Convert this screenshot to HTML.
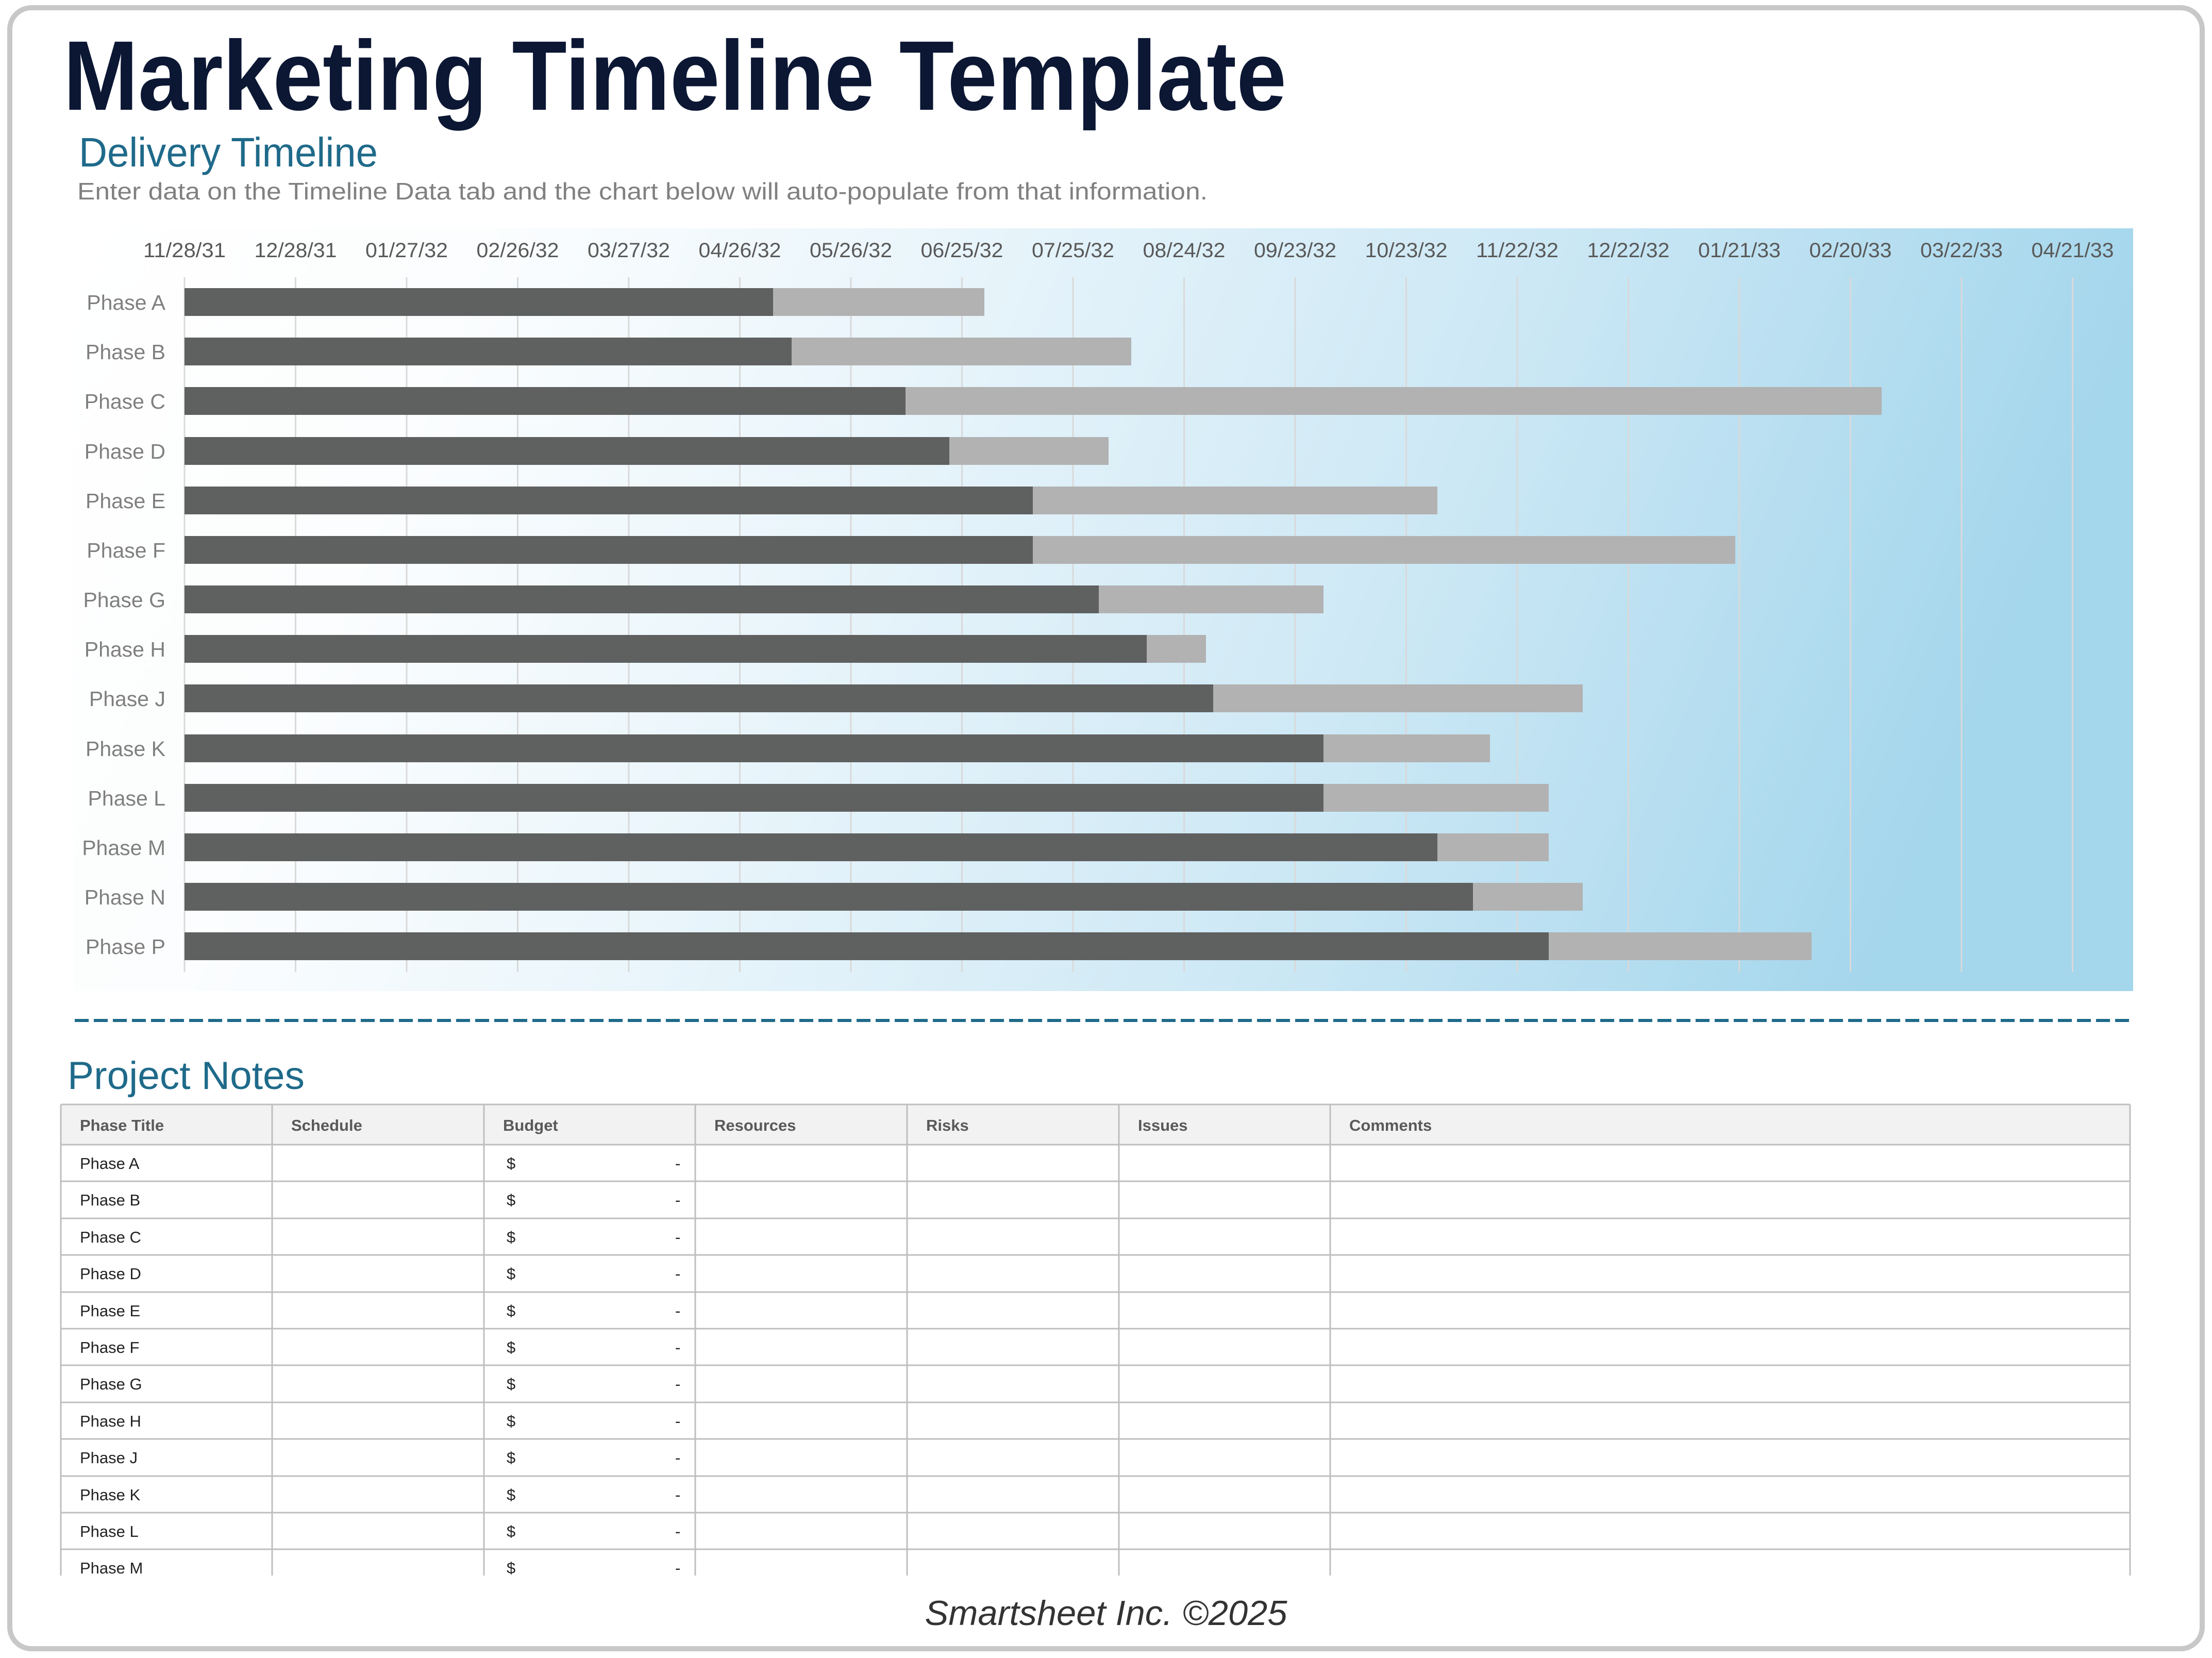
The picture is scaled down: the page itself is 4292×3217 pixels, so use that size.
<!DOCTYPE html>
<html><head><meta charset="utf-8"><style>html,body{margin:0;padding:0;background:#fff}svg{display:block}</style></head>
<body>
<svg width="4292" height="3217" viewBox="0 0 4292 3217" xmlns="http://www.w3.org/2000/svg" font-family="'Liberation Sans', sans-serif">
<defs>
<linearGradient id="bg" x1="0" y1="0" x2="1" y2="0.15">
<stop offset="0" stop-color="#ffffff"/>
<stop offset="0.2" stop-color="#fbfdfe"/>
<stop offset="0.42" stop-color="#e9f5fb"/>
<stop offset="0.7" stop-color="#cde8f5"/>
<stop offset="1" stop-color="#a4d6ec"/>
</linearGradient>
</defs>
<rect x="0" y="0" width="4292" height="3217" fill="#fff"/>
<rect x="19" y="15" width="4254" height="3184" rx="42" fill="#fff" stroke="#c8c8c8" stroke-width="10"/>

<text x="123" y="213" font-size="192" font-weight="bold" fill="#0b1733" textLength="2373" lengthAdjust="spacingAndGlyphs">Marketing Timeline Template</text>
<text x="153" y="323" font-size="80" fill="#1f6a8a" textLength="580" lengthAdjust="spacingAndGlyphs">Delivery Timeline</text>
<text x="150" y="387" font-size="46" fill="#808080" textLength="2193" lengthAdjust="spacingAndGlyphs">Enter data on the Timeline Data tab and the chart below will auto-populate from that information.</text>

<rect x="142" y="443" width="3997" height="1480" fill="url(#bg)"/>

<g stroke="#d9d9d9" stroke-width="3">
<line x1="358" y1="538" x2="358" y2="1886"/><line x1="573.5" y1="538" x2="573.5" y2="1886"/><line x1="789" y1="538" x2="789" y2="1886"/><line x1="1004.5" y1="538" x2="1004.5" y2="1886"/><line x1="1220" y1="538" x2="1220" y2="1886"/><line x1="1435.5" y1="538" x2="1435.5" y2="1886"/><line x1="1651" y1="538" x2="1651" y2="1886"/><line x1="1866.5" y1="538" x2="1866.5" y2="1886"/><line x1="2082" y1="538" x2="2082" y2="1886"/><line x1="2297.5" y1="538" x2="2297.5" y2="1886"/><line x1="2513" y1="538" x2="2513" y2="1886"/><line x1="2728.5" y1="538" x2="2728.5" y2="1886"/><line x1="2944" y1="538" x2="2944" y2="1886"/><line x1="3159.5" y1="538" x2="3159.5" y2="1886"/><line x1="3375" y1="538" x2="3375" y2="1886"/><line x1="3590.5" y1="538" x2="3590.5" y2="1886"/><line x1="3806" y1="538" x2="3806" y2="1886"/><line x1="4021.5" y1="538" x2="4021.5" y2="1886"/>
</g>

<g font-size="40" fill="#595959" text-anchor="middle">
<text x="358" y="499" textLength="160" lengthAdjust="spacingAndGlyphs">11/28/31</text>
<text x="573.5" y="499" textLength="160" lengthAdjust="spacingAndGlyphs">12/28/31</text>
<text x="789" y="499" textLength="160" lengthAdjust="spacingAndGlyphs">01/27/32</text>
<text x="1004.5" y="499" textLength="160" lengthAdjust="spacingAndGlyphs">02/26/32</text>
<text x="1220" y="499" textLength="160" lengthAdjust="spacingAndGlyphs">03/27/32</text>
<text x="1435.5" y="499" textLength="160" lengthAdjust="spacingAndGlyphs">04/26/32</text>
<text x="1651" y="499" textLength="160" lengthAdjust="spacingAndGlyphs">05/26/32</text>
<text x="1866.5" y="499" textLength="160" lengthAdjust="spacingAndGlyphs">06/25/32</text>
<text x="2082" y="499" textLength="160" lengthAdjust="spacingAndGlyphs">07/25/32</text>
<text x="2297.5" y="499" textLength="160" lengthAdjust="spacingAndGlyphs">08/24/32</text>
<text x="2513" y="499" textLength="160" lengthAdjust="spacingAndGlyphs">09/23/32</text>
<text x="2728.5" y="499" textLength="160" lengthAdjust="spacingAndGlyphs">10/23/32</text>
<text x="2944" y="499" textLength="160" lengthAdjust="spacingAndGlyphs">11/22/32</text>
<text x="3159.5" y="499" textLength="160" lengthAdjust="spacingAndGlyphs">12/22/32</text>
<text x="3375" y="499" textLength="160" lengthAdjust="spacingAndGlyphs">01/21/33</text>
<text x="3590.5" y="499" textLength="160" lengthAdjust="spacingAndGlyphs">02/20/33</text>
<text x="3806" y="499" textLength="160" lengthAdjust="spacingAndGlyphs">03/22/33</text>
<text x="4021.5" y="499" textLength="160" lengthAdjust="spacingAndGlyphs">04/21/33</text>
</g>

<g font-size="41" fill="#7f7f7f" text-anchor="end">
<text x="321" y="601">Phase A</text>
<text x="321" y="697">Phase B</text>
<text x="321" y="793">Phase C</text>
<text x="321" y="890">Phase D</text>
<text x="321" y="986">Phase E</text>
<text x="321" y="1082">Phase F</text>
<text x="321" y="1178">Phase G</text>
<text x="321" y="1274">Phase H</text>
<text x="321" y="1370">Phase J</text>
<text x="321" y="1467">Phase K</text>
<text x="321" y="1563">Phase L</text>
<text x="321" y="1659">Phase M</text>
<text x="321" y="1755">Phase N</text>
<text x="321" y="1851">Phase P</text>
</g>

<g fill="#b2b2b2">
<rect x="358" y="559" width="1552" height="54"/>
<rect x="358" y="655" width="1837" height="54"/>
<rect x="358" y="751" width="3293" height="54"/>
<rect x="358" y="848" width="1793" height="54"/>
<rect x="358" y="944" width="2431" height="54"/>
<rect x="358" y="1040" width="3009" height="54"/>
<rect x="358" y="1136" width="2210" height="54"/>
<rect x="358" y="1232" width="1982" height="54"/>
<rect x="358" y="1328" width="2713" height="54"/>
<rect x="358" y="1425" width="2533" height="54"/>
<rect x="358" y="1521" width="2647" height="54"/>
<rect x="358" y="1617" width="2647" height="54"/>
<rect x="358" y="1713" width="2713" height="54"/>
<rect x="358" y="1809" width="3157" height="54"/>
</g>
<g fill="#5f6060">
<rect x="358" y="559" width="1142" height="54"/>
<rect x="358" y="655" width="1178" height="54"/>
<rect x="358" y="751" width="1399" height="54"/>
<rect x="358" y="848" width="1484" height="54"/>
<rect x="358" y="944" width="1646" height="54"/>
<rect x="358" y="1040" width="1646" height="54"/>
<rect x="358" y="1136" width="1774" height="54"/>
<rect x="358" y="1232" width="1867" height="54"/>
<rect x="358" y="1328" width="1996" height="54"/>
<rect x="358" y="1425" width="2210" height="54"/>
<rect x="358" y="1521" width="2210" height="54"/>
<rect x="358" y="1617" width="2431" height="54"/>
<rect x="358" y="1713" width="2500" height="54"/>
<rect x="358" y="1809" width="2647" height="54"/>
</g>

<line x1="145" y1="1980" x2="4139" y2="1980" stroke="#1f6a8a" stroke-width="6" stroke-dasharray="27 10"/>

<text x="131" y="2113" font-size="76" fill="#1f6a8a" textLength="460" lengthAdjust="spacingAndGlyphs">Project Notes</text>

<rect x="118" y="2143" width="4015" height="78" fill="#f2f2f2"/>
<g stroke="#bfbfbf" stroke-width="3">
<line x1="118" y1="2143" x2="4133" y2="2143"/>
<line x1="118" y1="2221" x2="4133" y2="2221"/>
<line x1="118" y1="2292" x2="4133" y2="2292"/>
<line x1="118" y1="2364" x2="4133" y2="2364"/>
<line x1="118" y1="2435" x2="4133" y2="2435"/>
<line x1="118" y1="2507" x2="4133" y2="2507"/>
<line x1="118" y1="2578" x2="4133" y2="2578"/>
<line x1="118" y1="2649" x2="4133" y2="2649"/>
<line x1="118" y1="2721" x2="4133" y2="2721"/>
<line x1="118" y1="2792" x2="4133" y2="2792"/>
<line x1="118" y1="2864" x2="4133" y2="2864"/>
<line x1="118" y1="2935" x2="4133" y2="2935"/>
<line x1="118" y1="3006" x2="4133" y2="3006"/>
<line x1="118" y1="2143" x2="118" y2="3057"/>
<line x1="528" y1="2143" x2="528" y2="3057"/>
<line x1="939" y1="2143" x2="939" y2="3057"/>
<line x1="1349" y1="2143" x2="1349" y2="3057"/>
<line x1="1760" y1="2143" x2="1760" y2="3057"/>
<line x1="2171" y1="2143" x2="2171" y2="3057"/>
<line x1="2581" y1="2143" x2="2581" y2="3057"/>
<line x1="4133" y1="2143" x2="4133" y2="3057"/>
</g>
<g font-size="31" font-weight="bold" fill="#595959">
<text x="155" y="2194">Phase Title</text>
<text x="565" y="2194">Schedule</text>
<text x="976" y="2194">Budget</text>
<text x="1386" y="2194">Resources</text>
<text x="1797" y="2194">Risks</text>
<text x="2208" y="2194">Issues</text>
<text x="2618" y="2194">Comments</text>
</g>
<g font-size="31" fill="#222">
<text x="155" y="2268">Phase A</text><text x="983" y="2268">$</text><text x="1310" y="2268">-</text>
<text x="155" y="2339">Phase B</text><text x="983" y="2339">$</text><text x="1310" y="2339">-</text>
<text x="155" y="2411">Phase C</text><text x="983" y="2411">$</text><text x="1310" y="2411">-</text>
<text x="155" y="2482">Phase D</text><text x="983" y="2482">$</text><text x="1310" y="2482">-</text>
<text x="155" y="2554">Phase E</text><text x="983" y="2554">$</text><text x="1310" y="2554">-</text>
<text x="155" y="2625">Phase F</text><text x="983" y="2625">$</text><text x="1310" y="2625">-</text>
<text x="155" y="2696">Phase G</text><text x="983" y="2696">$</text><text x="1310" y="2696">-</text>
<text x="155" y="2768">Phase H</text><text x="983" y="2768">$</text><text x="1310" y="2768">-</text>
<text x="155" y="2839">Phase J</text><text x="983" y="2839">$</text><text x="1310" y="2839">-</text>
<text x="155" y="2911">Phase K</text><text x="983" y="2911">$</text><text x="1310" y="2911">-</text>
<text x="155" y="2982">Phase L</text><text x="983" y="2982">$</text><text x="1310" y="2982">-</text>
<text x="155" y="3053">Phase M</text><text x="983" y="3053">$</text><text x="1310" y="3053">-</text>
</g>

<text x="2146" y="3153" font-size="68" font-style="italic" fill="#333" text-anchor="middle" textLength="703" lengthAdjust="spacingAndGlyphs">Smartsheet Inc. ©2025</text>
</svg>
</body></html>
